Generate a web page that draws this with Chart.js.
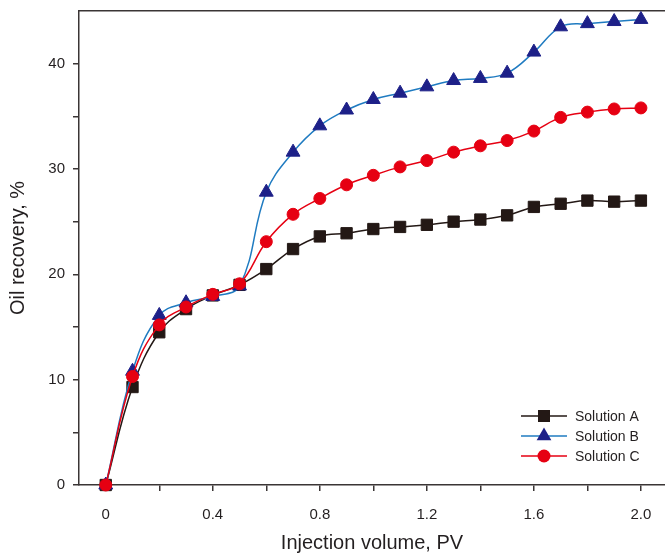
<!DOCTYPE html>
<html>
<head>
<meta charset="utf-8">
<script src="https://cdn.jsdelivr.net/npm/chart.js@4/dist/chart.umd.min.js"></script>
<style>
  html, body { margin: 0; padding: 0; background: #ffffff; }
  #wrap { width: 665px; height: 553px; position: relative; }
</style>
</head>
<body>
<div id="wrap"><canvas id="c" width="665" height="553"></canvas></div>
<script>
// ---- data ----
const injection = [0, 0.1, 0.2, 0.3, 0.4, 0.5, 0.6, 0.7, 0.8, 0.9, 1.0, 1.1, 1.2, 1.3, 1.4, 1.5, 1.6, 1.7, 1.8, 1.9, 2.0];
const solutionA = [0, 9.3, 14.5, 16.7, 18.0, 19.0, 20.5, 22.4, 23.6, 23.9, 24.3, 24.5, 24.7, 25.0, 25.2, 25.6, 26.4, 26.7, 27.0, 26.9, 27.0];
const solutionB = [0, 10.8, 16.1, 17.3, 17.9, 18.9, 27.8, 31.6, 34.1, 35.6, 36.6, 37.2, 37.8, 38.4, 38.6, 39.1, 41.1, 43.5, 43.8, 44.0, 44.2];
const solutionC = [0, 10.3, 15.2, 16.9, 18.1, 19.1, 23.1, 25.7, 27.2, 28.5, 29.4, 30.2, 30.8, 31.6, 32.2, 32.7, 33.6, 34.9, 35.4, 35.7, 35.8];
const seriesNames = ['Solution A', 'Solution B', 'Solution C'];
const xTickValues = [0, 0.2, 0.4, 0.6, 0.8, 1.0, 1.2, 1.4, 1.6, 1.8, 2.0];
const xTickLabels = ['0', '', '0.4', '', '0.8', '', '1.2', '', '1.6', '', '2.0'];
const yTickValues = [0, 5, 10, 15, 20, 25, 30, 35, 40];
const yTickLabels = ['0', '', '10', '', '20', '', '30', '', '40'];

const FONT = "'Liberation Sans', Arial, Helvetica, sans-serif";
const AXIS = '#3a3535';
const TEXT = '#231f20';

function pts(vals) { return injection.map((x, i) => ({ x: x, y: vals[i] })); }

function drawMarker(ctx, style, x, y, r, fill) {
  ctx.save();
  ctx.fillStyle = fill;
  ctx.beginPath();
  if (style === 'rect') {
    const s = Math.SQRT1_2 * r;
    ctx.rect(x - s, y - s, 2 * s, 2 * s);
  } else if (style === 'triangle') {
    let a = 0;
    ctx.moveTo(x + Math.sin(a) * r, y - Math.cos(a) * r);
    a += 2 * Math.PI / 3;
    ctx.lineTo(x + Math.sin(a) * r, y - Math.cos(a) * r);
    a += 2 * Math.PI / 3;
    ctx.lineTo(x + Math.sin(a) * r, y - Math.cos(a) * r);
    ctx.closePath();
  } else {
    ctx.arc(x, y, r, 0, Math.PI * 2);
  }
  ctx.fill();
  ctx.restore();
}

const legendPlugin = {
  id: 'lineMarkerLegend',
  afterDraw(chart) {
    const ctx = chart.ctx;
    const rows = [416, 436, 456];
    const x0 = 521, x1 = 567, xm = 544, xt = 575;
    chart.data.datasets.forEach((ds, i) => {
      const y = rows[i];
      ctx.save();
      ctx.strokeStyle = ds.borderColor;
      ctx.lineWidth = ds.borderWidth;
      ctx.beginPath();
      ctx.moveTo(x0, y);
      ctx.lineTo(x1, y);
      ctx.stroke();
      drawMarker(ctx, ds.pointStyle, xm, y, ds.pointRadius + 0.5, ds.pointBackgroundColor);
      ctx.fillStyle = TEXT;
      ctx.font = '14px ' + FONT;
      ctx.textBaseline = 'middle';
      ctx.textAlign = 'left';
      ctx.fillText(ds.label, xt, y + 1);
      ctx.restore();
    });
  }
};

function noPad(s) { s.paddingLeft = 0; s.paddingRight = 0; s.paddingTop = 0; s.paddingBottom = 0; }

const chart = new Chart(document.getElementById('c'), {
  type: 'line',
  data: {
    datasets: [
      {
        label: seriesNames[0], data: pts(solutionA), order: 3,
        borderColor: '#231815', borderWidth: 1.5, tension: 0.4,
        pointStyle: 'rect', pointRadius: 8, pointBorderWidth: 1,
        pointBackgroundColor: '#231815', pointBorderColor: '#231815',
        clip: false
      },
      {
        label: seriesNames[1], data: pts(solutionB), order: 2,
        borderColor: '#1f7bc1', borderWidth: 1.5, tension: 0.4,
        pointStyle: 'triangle', pointRadius: 8, pointBorderWidth: 1,
        pointBackgroundColor: '#1d2088', pointBorderColor: '#1d2088',
        clip: false
      },
      {
        label: seriesNames[2], data: pts(solutionC), order: 1,
        borderColor: '#e60012', borderWidth: 1.5, tension: 0.4,
        pointStyle: 'circle', pointRadius: 6, pointBorderWidth: 1,
        pointBackgroundColor: '#e60012', pointBorderColor: '#e60012',
        clip: false
      }
    ]
  },
  options: {
    responsive: false,
    animation: false,
    devicePixelRatio: 1,
    layout: { padding: 0, autoPadding: false },
    plugins: { legend: { display: false }, tooltip: { enabled: false }, title: { display: false } },
    scales: {
      x: {
        type: 'linear', position: 'bottom', min: -0.1, max: 2.09,
        afterBuildTicks(s) { s.ticks = xTickValues.map(v => ({ value: v })); },
        afterFit(s) { s.height = 68; noPad(s); },
        ticks: {
          autoSkip: false, maxRotation: 0, padding: 15,
          color: TEXT, font: { size: 15, family: FONT },
          callback(v, i) { return xTickLabels[i]; }
        },
        grid: { drawOnChartArea: false, drawTicks: true, tickLength: 6, color: AXIS, lineWidth: 1.5 },
        border: { display: true, color: AXIS, width: 1.5 },
        title: {
          display: true, text: 'Injection volume, PV', color: TEXT,
          font: { size: 20, family: FONT, lineHeight: 1 }, padding: { top: 0, bottom: 0 }
        }
      },
      x2: {
        type: 'linear', position: 'top', min: -0.1, max: 2.09,
        afterFit(s) { s.height = 11; noPad(s); },
        ticks: { display: false },
        grid: { display: false, drawOnChartArea: false, drawTicks: false },
        border: { display: true, color: AXIS, width: 1.5 }
      },
      y: {
        type: 'linear', position: 'left', min: 0, max: 45,
        afterBuildTicks(s) { s.ticks = yTickValues.map(v => ({ value: v })); },
        afterFit(s) { s.width = 79; noPad(s); },
        ticks: {
          autoSkip: false, padding: 8,
          color: TEXT, font: { size: 15, family: FONT },
          callback(v, i) { return yTickLabels[i]; }
        },
        grid: { drawOnChartArea: false, drawTicks: true, tickLength: 6, color: AXIS, lineWidth: 1.5 },
        border: { display: true, color: AXIS, width: 1.5 },
        title: {
          display: true, text: 'Oil recovery, %', color: TEXT,
          font: { size: 20, family: FONT, lineHeight: 1 }, padding: { top: 8, bottom: 0 }
        }
      }
    }
  },
  plugins: [legendPlugin]
});
</script>
</body>
</html>
